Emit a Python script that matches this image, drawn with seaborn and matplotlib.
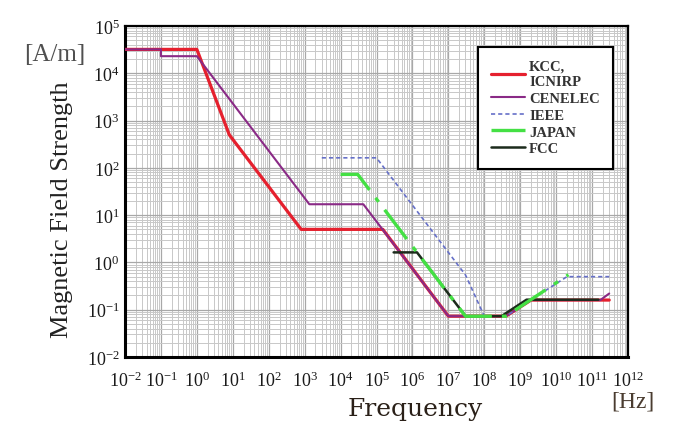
import numpy as np
import pandas as pd
import matplotlib
matplotlib.use("Agg")
import matplotlib.pyplot as plt
import seaborn as sns
from matplotlib.ticker import LogLocator, LogFormatterSciNotation, NullFormatter

# ---- data (frequency in Hz, magnetic field strength in A/m) ----
kcc_f = [1e-2, 1, 8, 800, 1.5e5, 1e7, 4e8, 2e9, 3e11]
kcc_h = [3.2e4, 3.2e4, 500, 5, 5, 0.073, 0.073, 0.16, 0.16]

cenelec_f = [1e-2, 0.1, 0.1, 1, 1350, 4.3e4, 1.5e5, 1e7, 4e8, 2e9, 1.7e11, 3e11]
cenelec_h = [3.2e4, 3.2e4, 2.3e4, 2.3e4, 17, 17, 4.9, 0.073, 0.073, 0.16, 0.16, 0.22]

ieee_f = [3e3, 1e5, 3e7, 1e8, 4e8, 2e10, 3e11]
ieee_h = [163, 163, 0.543, 0.073, 0.073, 0.5, 0.5]

japan_f = [1e4, 3e4, 3e7, 4e8, 2.2e10]
japan_h = [72.8, 72.8, 0.0728, 0.0728, 0.55]

fcc_f = [3e5, 1.34e6, 3e7, 3e8, 1.5e9, 1.5e11]
fcc_h = [1.63, 1.63, 0.073, 0.073, 0.163, 0.163]

legend_labels = ["KCC,\nICNIRP", "CENELEC", "IEEE", "JAPAN", "FCC"]

sns.set_style("white")
plt.rcParams["font.family"] = ["Liberation Serif", "DejaVu Serif"]
plt.rcParams["mathtext.fontset"] = "custom"
plt.rcParams["mathtext.rm"] = "Liberation Serif"
plt.rcParams["mathtext.it"] = "Liberation Serif:italic"
plt.rcParams["mathtext.bf"] = "Liberation Serif:bold"

fig = plt.figure(figsize=(6.79, 4.35), dpi=100)
ax = fig.add_axes([125 / 679, 1 - 358 / 435, 503 / 679, 331 / 435])
ax.set_xscale("log")
ax.set_yscale("log")

series = [
    (kcc_f, kcc_h, dict(color="#e5202e", lw=2.3, ls="-"), 3),
    (cenelec_f, cenelec_h, dict(color="#8a2a86", lw=1.5, ls="-"), 4),
    (ieee_f, ieee_h, dict(color="#6670c8", lw=1.2, ls=(0, (2.5, 1.8))), 5),
    (fcc_f, fcc_h, dict(color="#1c2b1c", lw=1.8, ls="-"), 6),
    (japan_f, japan_h, dict(color="#44e044", lw=2.4, ls=(0, (11, 3, 1.5, 3))), 7),
]
label_order = ["KCC,\nICNIRP", "CENELEC", "IEEE", "FCC", "JAPAN"]
handles = {}
for (fx, hy, style, z), lab in zip(series, label_order):
    df = pd.DataFrame({"f": fx, "h": hy})
    sns.lineplot(data=df, x="f", y="h", ax=ax, estimator=None, sort=False,
                 zorder=z, **style)
    handles[lab] = ax.lines[-1]

ax.set_xlim(1e-2, 1e12)
ax.set_ylim(1e-2, 1e5)
ax.xaxis.set_major_locator(LogLocator(base=10, numticks=30))
ax.yaxis.set_major_locator(LogLocator(base=10, numticks=30))
ax.xaxis.set_minor_locator(LogLocator(base=10, subs=np.arange(2, 10), numticks=30))
ax.yaxis.set_minor_locator(LogLocator(base=10, subs=np.arange(2, 10), numticks=30))
ax.xaxis.set_major_formatter(LogFormatterSciNotation())
ax.yaxis.set_major_formatter(LogFormatterSciNotation())
ax.xaxis.set_minor_formatter(NullFormatter())
ax.yaxis.set_minor_formatter(NullFormatter())

ax.grid(True, which="major", color="#a8a8a8", lw=0.9)
ax.grid(True, which="minor", color="#c8c8c8", lw=0.7)
ax.set_axisbelow(True)

ax.tick_params(which="major", direction="in", length=6, width=1.2, labelsize=13,
               labelcolor="#1a1a1a", pad=10)
ax.tick_params(which="minor", direction="in", length=3.5, width=1.0)
ax.tick_params(axis="y", which="major", pad=4)
for s in ax.spines.values():
    s.set_linewidth(1.6)
    s.set_color("black")
ax.spines["left"].set_linewidth(2.2)
ax.spines["bottom"].set_linewidth(2.2)

ax.set_xlabel("")
ax.set_ylabel("")

leg_h = [handles[l] for l in legend_labels]
leg = ax.legend(leg_h, legend_labels, loc="upper right", bbox_to_anchor=(0.970, 0.937),
                borderaxespad=0, frameon=True, fancybox=False, framealpha=1,
                edgecolor="black", prop=dict(family="Liberation Serif", size=10.5, weight="bold"),
                handlelength=2.3, handletextpad=0.3, labelspacing=0.25, borderpad=0.9)
leg.get_frame().set_linewidth(1.5)
for t in leg.get_texts():
    t.set_color("#333333")

fig.text(0.611, 0.0575, "Frequency", ha="center", va="center", fontsize=18,
         family="DejaVu Serif", color="#2a2018")
fig.text(0.932, 0.076, "[Hz]", ha="center", va="center", fontsize=17, color="#4a3c30")
fig.text(0.08, 0.874, "[A/m]", ha="center", va="center", fontsize=18, color="#505050")
fig.text(0.091, 0.517, "Magnetic Field Strength", ha="center", va="center",
         rotation=90, fontsize=19, color="#222222")

fig.savefig("out.png", dpi=100)
